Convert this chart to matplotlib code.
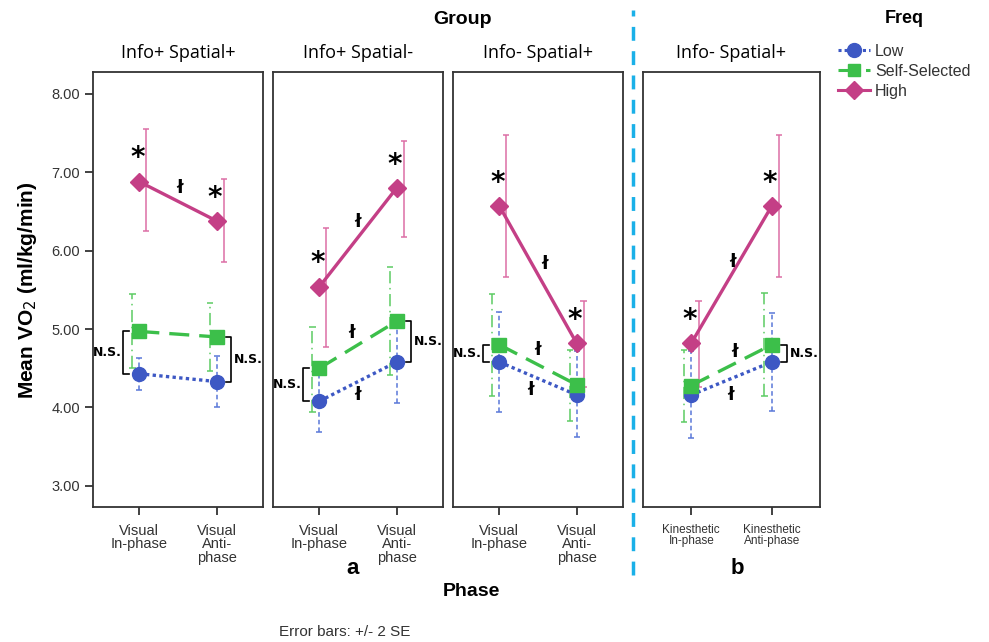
import numpy as np
import matplotlib.pyplot as plt
from matplotlib.lines import Line2D

plt.rcParams['font.family'] = ['Liberation Sans', 'DejaVu Sans']

# panel titles and phase labels
panel_titles = ["Info+ Spatial+", "Info+ Spatial-", "Info- Spatial+", "Info- Spatial+"]
visual_labels = ["Visual\nIn-phase", "Visual\nAnti-\nphase"]
kin_labels = ["Kinesthetic\nIn-phase", "Kinesthetic\nAnti-phase"]

# mean VO2 per panel [in-phase, anti-phase] and error bar ends (+/- 2 SE)
low_mean = [[4.43, 4.33], [4.08, 4.58], [4.58, 4.16], [4.16, 4.58]]
low_lo = [[4.22, 4.01], [3.69, 4.06], [3.94, 3.62], [3.61, 3.96]]
low_hi = [[4.63, 4.66], [4.47, 5.10], [5.22, 4.72], [4.72, 5.21]]

self_mean = [[4.97, 4.90], [4.50, 5.10], [4.80, 4.29], [4.28, 4.80]]
self_lo = [[4.50, 4.47], [3.94, 4.42], [4.14, 3.83], [3.82, 4.14]]
self_hi = [[5.45, 5.33], [5.03, 5.79], [5.45, 4.73], [4.73, 5.46]]

high_mean = [[6.88, 6.38], [5.54, 6.80], [6.57, 4.82], [4.82, 6.57]]
high_lo = [[6.25, 5.85], [4.77, 6.18], [5.67, 4.26], [4.26, 5.67]]
high_hi = [[7.55, 6.92], [6.29, 7.40], [7.47, 5.36], [5.36, 7.47]]

# significance marks: (panel, x, y)
dagger_pos = [(0, 0.52, 6.80),
              (1, 0.50, 6.37), (1, 0.42, 4.95), (1, 0.50, 4.16),
              (2, 0.59, 5.83), (2, 0.49, 4.73), (2, 0.40, 4.22),
              (3, 0.51, 5.86), (3, 0.54, 4.71), (3, 0.49, 4.16)]
# N.S. brackets: (panel, phase index, side)
ns_brackets = [(0, 0, 'L'), (0, 1, 'R'), (1, 0, 'L'), (1, 1, 'R'), (2, 0, 'L'), (3, 1, 'R')]

c_low, c_self, c_high = '#3d58c4', '#3cbf4a', '#c43f86'
c_low_e, c_self_e, c_high_e = '#5a78d8', '#5ccc63', '#dc6fa6'

fig = plt.figure(figsize=(9.89, 6.42), dpi=100)
W, H = 989, 642
boxes = [(93, 170), (273, 170), (453, 170), (643, 177)]
top_px, bot_px = 72, 507

x = np.array([0, 1])
for i, (left, width) in enumerate(boxes):
    ax = fig.add_axes([left / W, 1 - bot_px / H, width / W, (bot_px - top_px) / H])
    ax.set_xlim(-0.6, 1.6)
    ax.set_ylim(2.73, 8.28)
    for sp in ax.spines.values():
        sp.set_color('#333333')
        sp.set_linewidth(1.3)

    series = [
        (low_mean, low_lo, low_hi, c_low, c_low_e, (0, (1, 1)), 'o', 0.0, (0, (3, 2))),
        (self_mean, self_lo, self_hi, c_self, c_self_e, (0, (6, 3)), 's', -0.09, (0, (8, 3, 1, 3))),
        (high_mean, high_lo, high_hi, c_high, c_high_e, '-', 'D', 0.09, '-'),
    ]
    for mean, lo, hi, c, ce, ls, mk, off, els in series:
        m = np.array(mean[i])
        l = np.array(lo[i])
        h = np.array(hi[i])
        ax.vlines(x + off, l, h, colors=ce, linewidth=1.1, linestyles=els, zorder=2)
        ax.hlines(np.concatenate([l, h]), np.tile(x + off, 2) - 0.04, np.tile(x + off, 2) + 0.04,
                  colors=ce, linewidth=1.1, zorder=2)
        ax.plot(x, m, color=c, linestyle=ls, linewidth=2.4, marker=mk,
                markersize=10 if mk != 'D' else 9, zorder=3)

    for j in range(2):
        ax.text(x[j] - 0.02, high_mean[i][j] + 0.12, '*', ha='center', va='bottom',
                fontsize=20, fontweight='bold', family='DejaVu Sans')

    for p, dx, dy in dagger_pos:
        if p == i:
            ax.text(dx, dy, 'ł', ha='center', va='center', fontsize=13,
                    family='DejaVu Sans', fontweight='bold')

    for p, j, side in ns_brackets:
        if p != i:
            continue
        y1, y2 = self_mean[i][j], low_mean[i][j]
        if side == 'L':
            bx = x[j] - 0.21
            ax.plot([bx + 0.07, bx, bx, bx + 0.07], [y1, y1, y2, y2], color='black', lw=1.2)
            ax.text(bx - 0.02, (y1 + y2) / 2, 'N.S.', ha='right', va='center',
                    fontsize=9, fontweight='bold', family='DejaVu Sans')
        else:
            bx = x[j] + 0.19
            ax.plot([bx - 0.07, bx, bx, bx - 0.07], [y1, y1, y2, y2], color='black', lw=1.2)
            ax.text(bx + 0.03, (y1 + y2) / 2, 'N.S.', ha='left', va='center',
                    fontsize=9, fontweight='bold', family='DejaVu Sans')

    ax.set_xticks(x)
    ax.set_xticklabels(kin_labels if i == 3 else visual_labels,
                       fontsize=10.5 if i < 3 else 8.5, color='#333333', linespacing=0.95)
    ax.tick_params(axis='x', length=6, width=1.3, color='#333333', pad=6)
    if i == 0:
        ax.set_yticks(np.arange(3, 8.01, 1))
        ax.set_yticklabels([f"{v:.2f}" for v in np.arange(3, 8.01, 1)], fontsize=10.5, color='#333333')
        ax.tick_params(axis='y', length=6, width=1.3, color='#333333')
    else:
        ax.set_yticks([])
    ax.set_title(panel_titles[i], fontsize=13, pad=10, family='Open Sans')

fig.text(462 / W, 1 - 20 / H, 'Group', ha='center', va='center', fontsize=14, fontweight='bold')
fig.text(471 / W, 1 - 591 / H, 'Phase', ha='center', va='center', fontsize=14, fontweight='bold')
fig.text(353 / W, 1 - 569 / H, 'a', ha='center', va='center', fontsize=16, fontweight='bold')
fig.text(737 / W, 1 - 569 / H, 'b', ha='center', va='center', fontsize=16, fontweight='bold')
fig.text(28 / W, 1 - 290 / H, 'Mean VO$_2$ (ml/kg/min)', ha='center', va='center',
         rotation=90, fontsize=15, fontweight='bold')
fig.text(345 / W, 1 - 632 / H, 'Error bars: +/- 2 SE', ha='center', va='center',
         fontsize=11, color='#333333')

# dashed separator between the two experiments
fig.add_artist(Line2D([633 / W, 633 / W], [1 - 575 / H, 1 - 10 / H], color='#1ab0e8',
                      linewidth=2.5, linestyle=(0, (4, 3)), transform=fig.transFigure))

handles = [
    Line2D([], [], color=c_low, linestyle=(0, (1, 1)), marker='o', markersize=10, lw=2.2),
    Line2D([], [], color=c_self, linestyle=(0, (6, 3)), marker='s', markersize=9, lw=2.2),
    Line2D([], [], color=c_high, linestyle='-', marker='D', markersize=9, lw=2.2),
]
leg = fig.legend(handles, ['Low', 'Self-Selected', 'High'], loc='upper left',
                 bbox_to_anchor=(832 / W, 1 - 4 / H), frameon=False, fontsize=11.5,
                 title='Freq', handlelength=2.0, handletextpad=0.3, labelspacing=0.3,
                 borderaxespad=0)
leg.get_title().set_fontweight('bold')
leg.get_title().set_fontsize(13)
leg._legend_box.sep = 12
for t in leg.get_texts():
    t.set_color('#333333')

fig.savefig('out.png', dpi=100)
